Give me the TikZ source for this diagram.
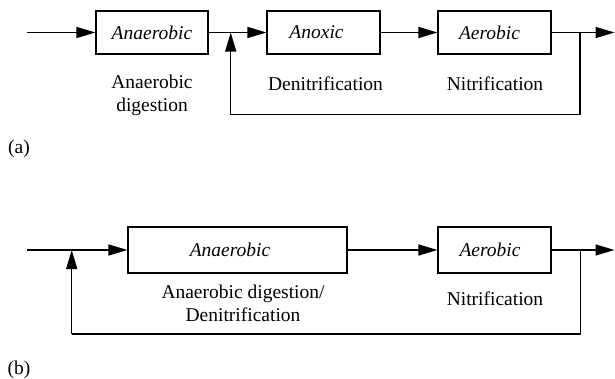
\documentclass[tikz,border=0pt]{standalone}
\usepackage{fontspec}
\setmainfont{Liberation Serif}
\usetikzlibrary{arrows.meta}
\begin{document}
\begin{tikzpicture}[x=1pt,y=-1pt,
  every node/.style={font=\fontsize{19.5}{22.7}\selectfont, inner sep=0pt},
  box/.style={draw, line width=1.1pt, minimum height=43pt},
  boxtext/.style={font=\fontsize{19.5}{22.7}\selectfont\itshape},
  lbl/.style={align=center},
  flow/.style={line width=1.3pt, -{Triangle[length=19pt,width=11pt]}},
  wire/.style={line width=1.3pt}]
\useasboundingbox (0,0) rectangle (615,378);
% ---- (a) ----
\node[box, minimum width=112pt] (a1) at (152,32.5) {};
\node[box, minimum width=113pt] (a2) at (323.5,32.5) {};
\node[box, minimum width=113pt] (a3) at (494.5,32.5) {};
\node[boxtext] (ta1) at (152,32.5) {Anaerobic};
\node[boxtext] (ta2) at (316.5,32.5) {Anoxic};
\node[boxtext] (ta3) at (489.5,32.5) {Aerobic};
\node[lbl] (la1) at (152,95) {Anaerobic\\digestion};
\node[lbl] (la2) at (325.5,83.5) {Denitrification};
\node[lbl] (la3) at (495,83.5) {Nitrification};
\node (capa) at (19,149) {(a)};
\coordinate (inA) at (27,32.5);
\coordinate (outA) at (614.5,32.5);
\coordinate (tapA) at (580,32.5);
\coordinate (joinA) at (230.7,32.5);
\coordinate (fbA1) at (580,114.5);
\coordinate (fbA2) at (230.7,114.5);
\draw[flow] (inA) -- (a1.west);
\draw[flow] (a1.east) -- (a2.west);
\draw[flow] (a2.east) -- (a3.west);
\draw[flow] (a3.east) -- (outA);
\draw[wire] (tapA) -- (fbA1) -- (fbA2);
\draw[flow] (fbA2) -- (joinA);
% ---- (b) ----
\node[box, minimum width=219pt, minimum height=46pt] (b1) at (237.5,250) {};
\node[box, minimum width=113pt, minimum height=46pt] (b2) at (494.5,250) {};
\node[boxtext] (tb1) at (230,250) {Anaerobic};
\node[boxtext] (tb2) at (490,250) {Aerobic};
\node[lbl] (lb1) at (243,303) {Anaerobic digestion/\\Denitrification};
\node[lbl] (lb2) at (495,299) {Nitrification};
\node (capb) at (19,370) {(b)};
\coordinate (inB) at (27,250);
\coordinate (outB) at (614.5,250);
\coordinate (tapB) at (580.7,250);
\coordinate (joinB) at (71.7,250);
\coordinate (fbB1) at (580.7,334);
\coordinate (fbB2) at (71.7,334);
\draw[flow] (inB) -- (b1.west);
\draw[flow] (b1.east) -- (b2.west);
\draw[flow] (b2.east) -- (outB);
\draw[wire] (tapB) -- (fbB1) -- (fbB2);
\draw[flow] (fbB2) -- (joinB);
\end{tikzpicture}
\end{document}
